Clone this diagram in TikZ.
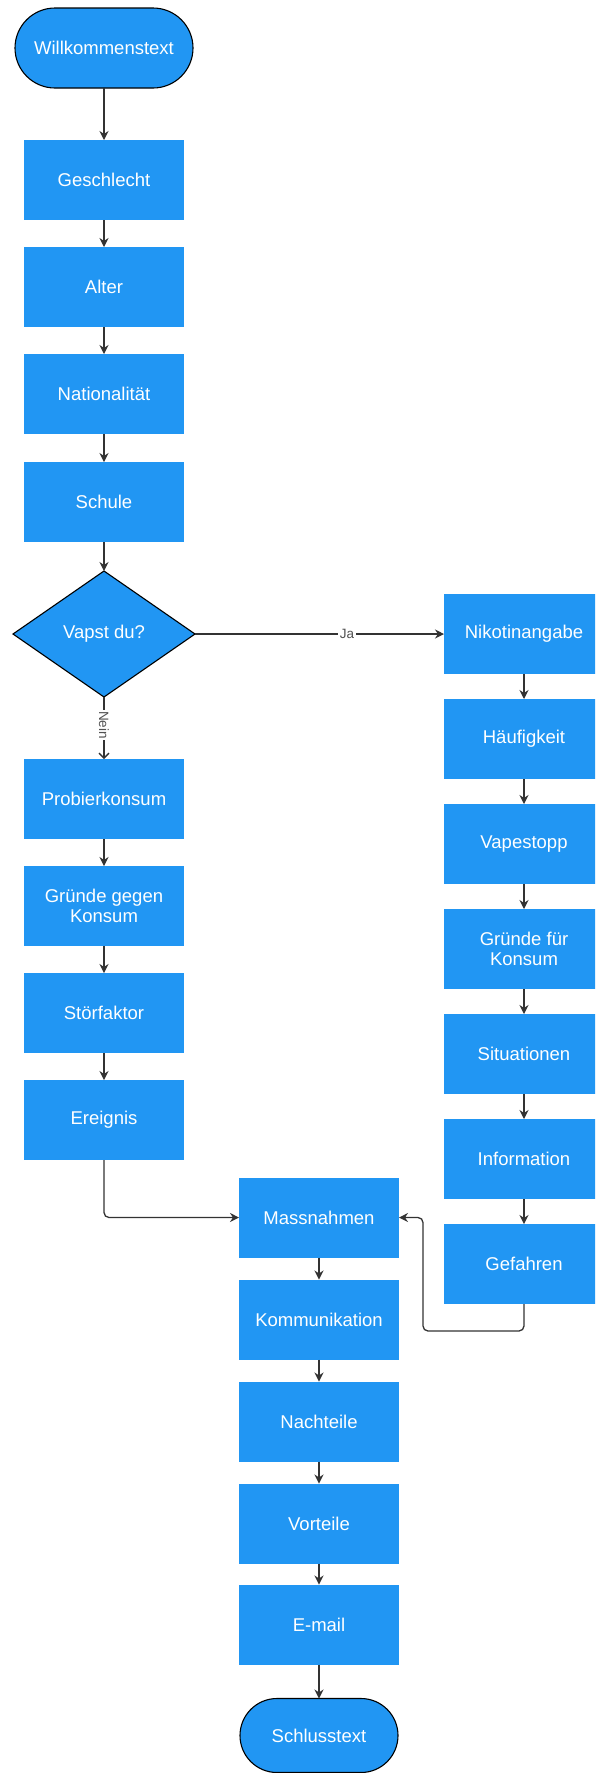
\documentclass[tikz,border=0pt]{standalone}
\usepackage{fontspec}
\setmainfont{Liberation Sans}
\usepackage{xcolor}
\usetikzlibrary{arrows.meta,positioning,shapes.geometric,shapes.misc}
\definecolor{flowblue}{HTML}{2196F3}
\definecolor{linegray}{HTML}{333333}

\begin{document}
\begin{tikzpicture}[
    x=1pt, y=1pt,
    font=\fontsize{18.5}{20}\selectfont,
    >=Stealth,
    box/.style={fill=flowblue, text=white, align=center, minimum width=160pt, minimum height=80pt, inner sep=2pt, outer sep=0pt},
    term/.style={box, rounded rectangle, draw=black, line width=1.1pt},
    decide/.style={diamond, fill=flowblue, draw=black, line width=1.1pt, text=white, minimum width=182pt, minimum height=126pt, inner sep=0pt, outer sep=0pt},
    arr/.style={-{Stealth[length=9pt, width=9pt]}, line width=1.3pt, draw=linegray},
    narr/.style={-{Straight Barb[length=5pt, width=10pt]}, line width=1.3pt, draw=linegray},
    lbl/.style={fill=white, text=linegray!85, font=\fontsize{13.5}{15}\selectfont, inner sep=1.5pt}
]
\useasboundingbox (0,0) rectangle (595,-1773);
\clip (0,0) rectangle (595,-1773);

\node[term, minimum width=182pt] (start) at (104,-48) {Willkommenstext};
\node[box, below=52pt of start] (gesch) {Geschlecht};
\node[box, below=27pt of gesch] (alter) {Alter};
\node[box, below=27pt of alter] (nation) {Nationalität};
\node[box, below=28pt of nation] (schule) {Schule};
\node[decide, below=29pt of schule] (vapst) {Vapst du?};

\node[box, below=62pt of vapst] (probier) {Probierkonsum};
\node[box, below=27pt of probier] (gegen) {Gründe gegen\\Konsum};
\node[box, below=27pt of gegen] (stoer) {Störfaktor};
\node[box, below=27pt of stoer] (ereig) {Ereignis};

\node[box, right=249pt of vapst] (nikotin) {Nikotinangabe};
\node[box, below=25pt of nikotin] (haeuf) {Häufigkeit};
\node[box, below=25pt of haeuf] (stopp) {Vapestopp};
\node[box, below=25pt of stopp] (fuer) {Gründe für\\Konsum};
\node[box, below=25pt of fuer] (situat) {Situationen};
\node[box, below=25pt of situat] (info) {Information};
\node[box, below=25pt of info] (gefahr) {Gefahren};

\node[box] (massn) at (319,-1217.5) {Massnahmen};
\node[box, below=22pt of massn] (komm) {Kommunikation};
\node[box, below=22pt of komm] (nacht) {Nachteile};
\node[box, below=22pt of nacht] (vort) {Vorteile};
\node[box, below=21pt of vort] (email) {E-mail};
\node[term, minimum width=162pt, minimum height=74pt, below=34pt of email] (schluss) {Schlusstext};

\draw[arr] (start) -- (gesch);
\draw[arr] (gesch) -- (alter);
\draw[arr] (alter) -- (nation);
\draw[arr] (nation) -- (schule);
\draw[arr] (schule) -- (vapst);
\draw[arr] (vapst.east) -- node[lbl, pos=0.61] {Ja} (nikotin.west);
\draw[narr] (vapst.south) -- node[lbl, rotate=-90, pos=0.45] {Nein} (probier.north);

\draw[arr] (probier) -- (gegen);
\draw[arr] (gegen) -- (stoer);
\draw[arr] (stoer) -- (ereig);
\draw[arr, rounded corners=5pt] (ereig.south) |- (massn.west);

\draw[arr] (nikotin) -- (haeuf);
\draw[arr] (haeuf) -- (stopp);
\draw[arr] (stopp) -- (fuer);
\draw[arr] (fuer) -- (situat);
\draw[arr] (situat) -- (info);
\draw[arr] (info) -- (gefahr);
\draw[arr, rounded corners=5pt] (gefahr.south) -- ++(0,-27) -| ([xshift=24pt]massn.east) -- (massn.east);

\draw[arr] (massn) -- (komm);
\draw[arr] (komm) -- (nacht);
\draw[arr] (nacht) -- (vort);
\draw[arr] (vort) -- (email);
\draw[arr] (email) -- (schluss);
\end{tikzpicture}
\end{document}
